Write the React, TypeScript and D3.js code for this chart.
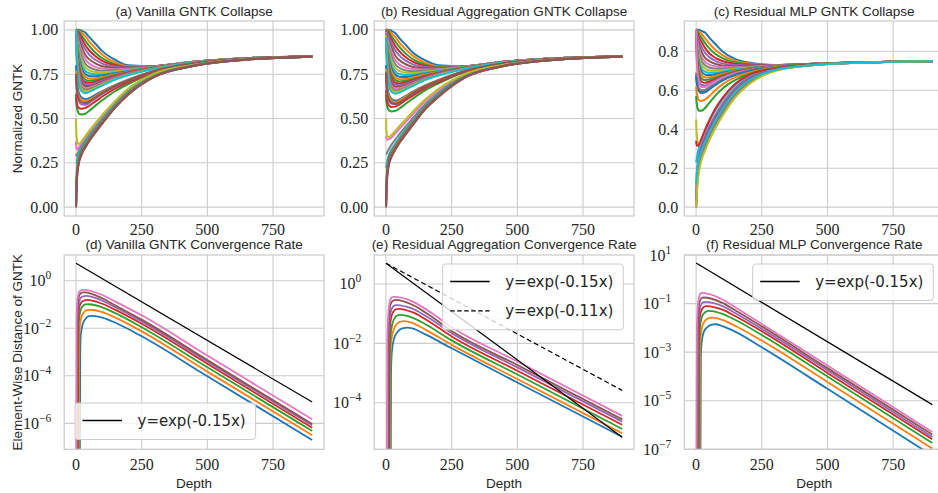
import React from 'react';
import * as d3 from 'd3';

type Pt = [number, number];

const collapseDepths = [0, 2, 5, 10, 20, 35, 50, 75, 100, 150, 200, 300, 450, 650, 899];

// (a) Vanilla GNTK collapse, one row per curve
const vanillaCollapse: number[][] = [
  [1.00, 1.00, 1.00, 1.00, 0.995, 0.985, 0.96, 0.92, 0.88, 0.83, 0.80, 0.795, 0.82, 0.84, 0.85],
  [1.00, 1.00, 1.00, 0.995, 0.985, 0.965, 0.935, 0.895, 0.86, 0.815, 0.795, 0.795, 0.82, 0.84, 0.85],
  [1.00, 1.00, 0.995, 0.99, 0.97, 0.94, 0.91, 0.87, 0.84, 0.805, 0.79, 0.795, 0.82, 0.84, 0.85],
  [1.00, 0.995, 0.99, 0.98, 0.955, 0.915, 0.885, 0.85, 0.825, 0.80, 0.788, 0.795, 0.82, 0.84, 0.85],
  [1.00, 0.99, 0.985, 0.97, 0.935, 0.89, 0.86, 0.83, 0.81, 0.792, 0.786, 0.795, 0.82, 0.84, 0.85],
  [1.00, 0.99, 0.975, 0.955, 0.91, 0.86, 0.835, 0.81, 0.795, 0.785, 0.783, 0.794, 0.82, 0.84, 0.85],
  [1.00, 0.985, 0.965, 0.935, 0.885, 0.835, 0.81, 0.79, 0.782, 0.778, 0.78, 0.793, 0.82, 0.84, 0.85],
  [1.00, 0.98, 0.955, 0.915, 0.86, 0.81, 0.79, 0.775, 0.77, 0.772, 0.777, 0.792, 0.82, 0.84, 0.85],
  [1.00, 0.975, 0.94, 0.895, 0.835, 0.79, 0.772, 0.762, 0.76, 0.766, 0.774, 0.791, 0.82, 0.84, 0.85],
  [1.00, 0.97, 0.93, 0.875, 0.81, 0.77, 0.755, 0.75, 0.75, 0.76, 0.77, 0.79, 0.819, 0.84, 0.85],
  [1.00, 0.96, 0.915, 0.855, 0.79, 0.752, 0.74, 0.738, 0.742, 0.755, 0.767, 0.789, 0.819, 0.84, 0.85],
  [1.00, 0.955, 0.90, 0.835, 0.77, 0.735, 0.726, 0.727, 0.733, 0.75, 0.764, 0.788, 0.819, 0.84, 0.85],
  [1.00, 0.945, 0.885, 0.815, 0.752, 0.72, 0.713, 0.717, 0.726, 0.745, 0.761, 0.787, 0.818, 0.84, 0.85],
  [1.00, 0.935, 0.87, 0.795, 0.735, 0.706, 0.702, 0.708, 0.719, 0.741, 0.758, 0.786, 0.818, 0.84, 0.85],
  [1.00, 0.925, 0.855, 0.78, 0.72, 0.694, 0.692, 0.70, 0.713, 0.737, 0.756, 0.785, 0.818, 0.84, 0.85],
  [1.00, 0.915, 0.84, 0.765, 0.706, 0.683, 0.683, 0.693, 0.707, 0.733, 0.753, 0.784, 0.817, 0.84, 0.85],
  [1.00, 0.905, 0.825, 0.75, 0.692, 0.672, 0.674, 0.686, 0.701, 0.729, 0.751, 0.783, 0.817, 0.84, 0.85],
  [1.00, 0.89, 0.81, 0.735, 0.68, 0.662, 0.666, 0.68, 0.696, 0.726, 0.749, 0.782, 0.817, 0.84, 0.85],
  [1.00, 0.875, 0.795, 0.72, 0.668, 0.653, 0.658, 0.674, 0.691, 0.723, 0.747, 0.781, 0.816, 0.84, 0.85],
  [1.00, 0.86, 0.78, 0.705, 0.656, 0.643, 0.65, 0.668, 0.686, 0.72, 0.745, 0.78, 0.816, 0.84, 0.85],
  [0.80, 0.74, 0.69, 0.65, 0.62, 0.61, 0.615, 0.635, 0.655, 0.69, 0.72, 0.77, 0.812, 0.838, 0.85],
  [0.77, 0.71, 0.665, 0.63, 0.605, 0.598, 0.605, 0.627, 0.65, 0.687, 0.718, 0.769, 0.812, 0.838, 0.85],
  [0.62, 0.58, 0.55, 0.53, 0.523, 0.527, 0.543, 0.574, 0.603, 0.655, 0.695, 0.761, 0.809, 0.837, 0.85],
  [0.64, 0.60, 0.575, 0.56, 0.555, 0.56, 0.572, 0.598, 0.624, 0.67, 0.705, 0.764, 0.81, 0.837, 0.85],
  [0.74, 0.675, 0.63, 0.60, 0.58, 0.577, 0.588, 0.614, 0.639, 0.681, 0.714, 0.767, 0.811, 0.838, 0.85],
  [0.75, 0.69, 0.645, 0.613, 0.592, 0.587, 0.596, 0.62, 0.644, 0.684, 0.716, 0.768, 0.811, 0.838, 0.85],
  [0.37, 0.33, 0.325, 0.335, 0.355, 0.385, 0.415, 0.462, 0.507, 0.59, 0.662, 0.748, 0.802, 0.834, 0.849],
  [0.30, 0.29, 0.30, 0.315, 0.34, 0.373, 0.404, 0.452, 0.498, 0.583, 0.657, 0.745, 0.801, 0.834, 0.849],
  [0.50, 0.40, 0.365, 0.355, 0.37, 0.40, 0.43, 0.475, 0.52, 0.60, 0.67, 0.755, 0.803, 0.835, 0.849],
  [0.25, 0.25, 0.275, 0.30, 0.33, 0.364, 0.396, 0.445, 0.491, 0.578, 0.652, 0.743, 0.80, 0.833, 0.849],
  [0.00, 0.17, 0.235, 0.28, 0.318, 0.355, 0.388, 0.438, 0.485, 0.573, 0.648, 0.741, 0.799, 0.833, 0.849],
  [0.00, 0.155, 0.222, 0.27, 0.311, 0.35, 0.384, 0.434, 0.481, 0.57, 0.645, 0.74, 0.799, 0.833, 0.849],
  [0.00, 0.14, 0.21, 0.26, 0.305, 0.345, 0.38, 0.43, 0.478, 0.568, 0.642, 0.739, 0.798, 0.833, 0.849],
  [0.00, 0.13, 0.20, 0.252, 0.30, 0.34, 0.376, 0.427, 0.475, 0.566, 0.64, 0.738, 0.798, 0.832, 0.849],
  [0.00, 0.12, 0.192, 0.246, 0.296, 0.337, 0.374, 0.425, 0.473, 0.565, 0.638, 0.737, 0.797, 0.832, 0.849],
  [0.00, 0.11, 0.185, 0.24, 0.292, 0.335, 0.372, 0.423, 0.471, 0.563, 0.636, 0.736, 0.797, 0.832, 0.849],
];

// (b) Residual aggregation GNTK collapse
const aggCollapse: number[][] = [
  [1.00, 1.00, 1.00, 1.00, 0.995, 0.982, 0.955, 0.915, 0.875, 0.827, 0.80, 0.795, 0.82, 0.84, 0.85],
  [1.00, 1.00, 1.00, 0.995, 0.982, 0.96, 0.93, 0.89, 0.856, 0.813, 0.794, 0.795, 0.82, 0.84, 0.85],
  [1.00, 1.00, 0.995, 0.988, 0.966, 0.935, 0.905, 0.866, 0.837, 0.803, 0.789, 0.794, 0.82, 0.84, 0.85],
  [1.00, 0.995, 0.99, 0.978, 0.95, 0.91, 0.88, 0.846, 0.822, 0.797, 0.786, 0.794, 0.82, 0.84, 0.85],
  [1.00, 0.99, 0.983, 0.966, 0.93, 0.885, 0.856, 0.826, 0.807, 0.79, 0.784, 0.794, 0.82, 0.84, 0.85],
  [1.00, 0.988, 0.973, 0.95, 0.905, 0.856, 0.83, 0.806, 0.792, 0.783, 0.781, 0.793, 0.82, 0.84, 0.85],
  [1.00, 0.983, 0.962, 0.93, 0.88, 0.83, 0.806, 0.786, 0.779, 0.776, 0.778, 0.792, 0.82, 0.84, 0.85],
  [1.00, 0.978, 0.95, 0.91, 0.855, 0.806, 0.786, 0.771, 0.767, 0.77, 0.775, 0.791, 0.82, 0.84, 0.85],
  [1.00, 0.972, 0.937, 0.89, 0.83, 0.786, 0.768, 0.758, 0.757, 0.764, 0.772, 0.79, 0.819, 0.84, 0.85],
  [1.00, 0.966, 0.925, 0.87, 0.806, 0.766, 0.751, 0.746, 0.747, 0.758, 0.768, 0.789, 0.819, 0.84, 0.85],
  [1.00, 0.958, 0.91, 0.85, 0.786, 0.748, 0.736, 0.734, 0.739, 0.753, 0.765, 0.788, 0.819, 0.84, 0.85],
  [1.00, 0.95, 0.895, 0.83, 0.766, 0.731, 0.722, 0.723, 0.73, 0.748, 0.762, 0.787, 0.818, 0.84, 0.85],
  [1.00, 0.94, 0.88, 0.81, 0.748, 0.716, 0.709, 0.713, 0.722, 0.743, 0.759, 0.786, 0.818, 0.84, 0.85],
  [1.00, 0.93, 0.865, 0.79, 0.731, 0.702, 0.698, 0.704, 0.715, 0.739, 0.756, 0.785, 0.818, 0.84, 0.85],
  [1.00, 0.92, 0.85, 0.775, 0.716, 0.69, 0.688, 0.696, 0.709, 0.735, 0.754, 0.784, 0.817, 0.84, 0.85],
  [1.00, 0.91, 0.835, 0.76, 0.702, 0.679, 0.679, 0.689, 0.703, 0.731, 0.751, 0.783, 0.817, 0.84, 0.85],
  [0.99, 0.895, 0.82, 0.745, 0.688, 0.668, 0.67, 0.682, 0.697, 0.727, 0.749, 0.782, 0.817, 0.84, 0.85],
  [0.98, 0.88, 0.805, 0.73, 0.676, 0.658, 0.662, 0.676, 0.692, 0.724, 0.747, 0.781, 0.816, 0.84, 0.85],
  [0.97, 0.865, 0.79, 0.715, 0.664, 0.649, 0.654, 0.67, 0.687, 0.721, 0.745, 0.78, 0.816, 0.84, 0.85],
  [0.96, 0.85, 0.775, 0.70, 0.652, 0.64, 0.646, 0.664, 0.682, 0.718, 0.743, 0.779, 0.816, 0.84, 0.85],
  [0.80, 0.73, 0.68, 0.64, 0.612, 0.60, 0.606, 0.628, 0.65, 0.688, 0.718, 0.768, 0.811, 0.838, 0.85],
  [0.78, 0.71, 0.66, 0.625, 0.60, 0.592, 0.60, 0.623, 0.646, 0.685, 0.716, 0.767, 0.811, 0.838, 0.85],
  [0.63, 0.59, 0.565, 0.548, 0.54, 0.543, 0.555, 0.583, 0.61, 0.66, 0.698, 0.762, 0.809, 0.837, 0.85],
  [0.66, 0.62, 0.595, 0.575, 0.565, 0.567, 0.578, 0.603, 0.628, 0.672, 0.706, 0.764, 0.81, 0.837, 0.85],
  [0.75, 0.68, 0.632, 0.602, 0.584, 0.58, 0.589, 0.614, 0.639, 0.68, 0.713, 0.766, 0.811, 0.838, 0.85],
  [0.76, 0.69, 0.64, 0.61, 0.59, 0.583, 0.59, 0.614, 0.64, 0.682, 0.714, 0.767, 0.811, 0.838, 0.85],
  [0.40, 0.385, 0.38, 0.382, 0.392, 0.415, 0.44, 0.48, 0.52, 0.597, 0.658, 0.746, 0.802, 0.834, 0.849],
  [0.30, 0.30, 0.31, 0.325, 0.35, 0.38, 0.41, 0.455, 0.498, 0.58, 0.645, 0.74, 0.80, 0.834, 0.849],
  [0.50, 0.42, 0.40, 0.395, 0.405, 0.43, 0.455, 0.495, 0.535, 0.608, 0.668, 0.75, 0.803, 0.835, 0.849],
  [0.22, 0.24, 0.265, 0.29, 0.322, 0.357, 0.39, 0.438, 0.483, 0.57, 0.637, 0.737, 0.799, 0.833, 0.849],
  [0.00, 0.16, 0.225, 0.272, 0.31, 0.347, 0.38, 0.43, 0.476, 0.565, 0.633, 0.735, 0.798, 0.833, 0.849],
  [0.00, 0.145, 0.212, 0.262, 0.303, 0.341, 0.375, 0.425, 0.472, 0.562, 0.63, 0.734, 0.798, 0.833, 0.849],
  [0.00, 0.13, 0.20, 0.252, 0.296, 0.335, 0.37, 0.42, 0.468, 0.559, 0.628, 0.733, 0.797, 0.832, 0.849],
  [0.00, 0.12, 0.19, 0.244, 0.29, 0.33, 0.366, 0.416, 0.465, 0.557, 0.626, 0.732, 0.797, 0.832, 0.849],
  [0.00, 0.11, 0.182, 0.237, 0.285, 0.326, 0.362, 0.413, 0.462, 0.555, 0.624, 0.731, 0.796, 0.832, 0.849],
  [0.00, 0.10, 0.175, 0.23, 0.28, 0.322, 0.359, 0.41, 0.459, 0.553, 0.622, 0.73, 0.796, 0.832, 0.849],
];

// (c) Residual MLP GNTK collapse
const mlpCollapse: number[][] = [
  [0.91, 0.91, 0.91, 0.91, 0.905, 0.895, 0.87, 0.835, 0.80, 0.76, 0.742, 0.73, 0.736, 0.744, 0.749],
  [0.91, 0.91, 0.905, 0.90, 0.89, 0.865, 0.84, 0.805, 0.78, 0.75, 0.737, 0.729, 0.736, 0.744, 0.749],
  [0.91, 0.905, 0.90, 0.89, 0.87, 0.84, 0.815, 0.785, 0.765, 0.742, 0.733, 0.729, 0.736, 0.744, 0.749],
  [0.91, 0.90, 0.89, 0.875, 0.85, 0.815, 0.79, 0.765, 0.75, 0.735, 0.73, 0.728, 0.736, 0.744, 0.749],
  [0.91, 0.895, 0.88, 0.86, 0.825, 0.79, 0.77, 0.75, 0.738, 0.729, 0.727, 0.728, 0.736, 0.744, 0.749],
  [0.91, 0.89, 0.87, 0.84, 0.80, 0.765, 0.75, 0.735, 0.727, 0.723, 0.724, 0.727, 0.736, 0.744, 0.749],
  [0.91, 0.885, 0.855, 0.82, 0.775, 0.745, 0.732, 0.722, 0.718, 0.718, 0.721, 0.727, 0.736, 0.744, 0.749],
  [0.91, 0.875, 0.84, 0.80, 0.755, 0.727, 0.717, 0.711, 0.71, 0.714, 0.719, 0.726, 0.736, 0.744, 0.749],
  [0.91, 0.865, 0.825, 0.78, 0.735, 0.71, 0.703, 0.70, 0.702, 0.71, 0.716, 0.726, 0.736, 0.744, 0.749],
  [0.91, 0.855, 0.81, 0.76, 0.715, 0.694, 0.69, 0.69, 0.695, 0.706, 0.714, 0.725, 0.736, 0.744, 0.749],
  [0.91, 0.845, 0.795, 0.74, 0.697, 0.68, 0.678, 0.682, 0.689, 0.702, 0.712, 0.725, 0.736, 0.744, 0.749],
  [0.91, 0.835, 0.78, 0.722, 0.68, 0.666, 0.667, 0.674, 0.683, 0.699, 0.71, 0.724, 0.735, 0.744, 0.749],
  [0.91, 0.82, 0.76, 0.70, 0.662, 0.652, 0.656, 0.666, 0.677, 0.696, 0.708, 0.724, 0.735, 0.744, 0.749],
  [0.91, 0.805, 0.74, 0.68, 0.645, 0.638, 0.645, 0.658, 0.672, 0.693, 0.706, 0.723, 0.735, 0.744, 0.749],
  [0.91, 0.79, 0.72, 0.66, 0.628, 0.625, 0.635, 0.651, 0.667, 0.69, 0.704, 0.723, 0.735, 0.744, 0.749],
  [0.68, 0.65, 0.625, 0.603, 0.593, 0.597, 0.61, 0.632, 0.652, 0.681, 0.699, 0.721, 0.735, 0.744, 0.749],
  [0.91, 0.77, 0.70, 0.645, 0.617, 0.617, 0.628, 0.646, 0.663, 0.688, 0.703, 0.722, 0.735, 0.744, 0.749],
  [0.69, 0.66, 0.635, 0.612, 0.60, 0.603, 0.615, 0.636, 0.655, 0.683, 0.70, 0.721, 0.735, 0.744, 0.749],
  [0.45, 0.38, 0.34, 0.315, 0.31, 0.335, 0.37, 0.43, 0.485, 0.58, 0.64, 0.703, 0.73, 0.743, 0.749],
  [0.23, 0.245, 0.27, 0.30, 0.345, 0.395, 0.44, 0.50, 0.55, 0.628, 0.673, 0.71, 0.731, 0.743, 0.749],
  [0.67, 0.64, 0.615, 0.595, 0.585, 0.59, 0.604, 0.628, 0.649, 0.679, 0.698, 0.72, 0.735, 0.744, 0.749],
  [0.62, 0.59, 0.565, 0.55, 0.545, 0.553, 0.57, 0.603, 0.63, 0.667, 0.69, 0.718, 0.734, 0.744, 0.749],
  [0.57, 0.535, 0.51, 0.495, 0.495, 0.51, 0.535, 0.575, 0.608, 0.653, 0.682, 0.716, 0.734, 0.744, 0.749],
  [0.34, 0.32, 0.315, 0.32, 0.35, 0.40, 0.445, 0.51, 0.56, 0.635, 0.678, 0.712, 0.732, 0.743, 0.749],
  [0.00, 0.14, 0.21, 0.26, 0.315, 0.37, 0.415, 0.477, 0.53, 0.613, 0.663, 0.707, 0.731, 0.743, 0.749],
  [0.00, 0.11, 0.18, 0.235, 0.295, 0.35, 0.395, 0.46, 0.513, 0.60, 0.655, 0.705, 0.73, 0.743, 0.749],
  [0.00, 0.09, 0.155, 0.212, 0.275, 0.33, 0.377, 0.443, 0.498, 0.588, 0.647, 0.703, 0.73, 0.743, 0.749],
  [0.00, 0.07, 0.135, 0.192, 0.257, 0.313, 0.36, 0.428, 0.485, 0.578, 0.64, 0.701, 0.73, 0.743, 0.749],
  [0.00, 0.05, 0.115, 0.175, 0.24, 0.295, 0.343, 0.41, 0.468, 0.565, 0.63, 0.698, 0.729, 0.743, 0.749],
  [0.12, 0.17, 0.21, 0.245, 0.29, 0.34, 0.385, 0.45, 0.505, 0.594, 0.65, 0.704, 0.73, 0.743, 0.749],
];

// (d) Vanilla convergence rate: [depth, distance]
const vanillaRate: Pt[][] = [
  [[0, 1e-12], [14, 1e-9], [16, 1e-3], [18, 5e-3], [25, 1.4e-2], [35, 2.4e-2], [50, 3.2e-2], [64, 3.3e-2], [100, 2.8e-2], [150, 1.7e-2], [250, 4.6e-3], [500, 9.5e-5], [899, 2.0e-7]],
  [[0, 1e-12], [10, 1e-9], [12, 1.6e-3], [14, 1.0e-2], [20, 2.8e-2], [30, 4.7e-2], [42, 5.8e-2], [55, 6.0e-2], [100, 4.8e-2], [150, 2.8e-2], [250, 7.4e-3], [500, 1.5e-4], [899, 3.2e-7]],
  [[0, 1e-12], [7, 1e-9], [9, 3.2e-3], [11, 2.0e-2], [17, 5.6e-2], [26, 8.5e-2], [36, 0.10], [48, 0.102], [100, 7.6e-2], [150, 4.3e-2], [250, 1.1e-2], [500, 2.3e-4], [899, 4.8e-7]],
  [[0, 1e-12], [5, 1e-9], [7, 5e-3], [9, 3.2e-2], [14, 8.9e-2], [22, 0.13], [32, 0.15], [42, 0.155], [100, 0.107], [150, 5.9e-2], [250, 1.55e-2], [500, 3.2e-4], [899, 6.6e-7]],
  [[0, 1e-12], [3, 1e-9], [5, 6.3e-3], [7, 5.0e-2], [12, 0.13], [20, 0.20], [30, 0.22], [38, 0.23], [100, 0.145], [150, 7.6e-2], [250, 1.95e-2], [500, 4.0e-4], [899, 8.3e-7]],
  [[0, 1e-12], [2, 1e-9], [4, 1e-2], [6, 7.9e-2], [10, 0.20], [18, 0.295], [26, 0.32], [32, 0.324], [100, 0.182], [150, 9.1e-2], [250, 2.3e-2], [500, 4.6e-4], [899, 9.5e-7]],
  [[0, 1e-12], [1, 1e-9], [2, 1e-2], [4, 0.10], [8, 0.25], [15, 0.37], [22, 0.405], [28, 0.41], [100, 0.25], [150, 0.132], [250, 3.5e-2], [500, 7.1e-4], [899, 1.48e-6]],
];

// (e) Residual aggregation convergence rate
const aggRate: Pt[][] = [
  [[0, 1e-12], [17, 1e-9], [19, 1e-3], [22, 5e-3], [30, 1.4e-2], [45, 2.5e-2], [62, 3.2e-2], [83, 3.4e-2], [100, 3.2e-2], [150, 2.0e-2], [250, 6.8e-3], [500, 4.8e-4], [899, 7.1e-6]],
  [[0, 1e-12], [14, 1e-9], [16, 1.6e-3], [19, 1e-2], [27, 2.5e-2], [40, 4.4e-2], [55, 5.4e-2], [70, 5.6e-2], [100, 4.9e-2], [150, 2.9e-2], [250, 8.9e-3], [500, 6.3e-4], [899, 9.3e-6]],
  [[0, 1e-12], [12, 1e-9], [14, 2.5e-3], [17, 1.6e-2], [24, 4.5e-2], [35, 7.6e-2], [46, 8.9e-2], [57, 9.1e-2], [100, 7.4e-2], [150, 4.4e-2], [250, 1.26e-2], [500, 8.9e-4], [899, 1.3e-5]],
  [[0, 1e-12], [9, 1e-9], [11, 4e-3], [14, 2.5e-2], [20, 7.6e-2], [29, 0.12], [38, 0.141], [45, 0.145], [100, 0.112], [150, 6.5e-2], [250, 1.7e-2], [500, 1.2e-3], [899, 1.8e-5]],
  [[0, 1e-12], [7, 1e-9], [9, 5e-3], [12, 4e-2], [17, 0.105], [25, 0.166], [33, 0.19], [40, 0.195], [100, 0.148], [150, 8.5e-2], [250, 2.2e-2], [500, 1.55e-3], [899, 2.3e-5]],
  [[0, 1e-12], [5, 1e-9], [7, 7.9e-3], [10, 6.3e-2], [15, 0.166], [22, 0.25], [29, 0.28], [35, 0.29], [100, 0.20], [150, 0.11], [250, 2.6e-2], [500, 1.86e-3], [899, 2.75e-5]],
  [[0, 1e-12], [3, 1e-9], [5, 1e-2], [8, 7.9e-2], [13, 0.22], [19, 0.33], [25, 0.36], [30, 0.37], [100, 0.26], [150, 0.145], [250, 3.5e-2], [500, 2.45e-3], [899, 3.6e-5]],
];

// (f) Residual MLP convergence rate
const mlpRate: Pt[][] = [
  [[0, 1e-12], [16, 1e-9], [18, 6.3e-4], [21, 2.5e-3], [30, 7.1e-3], [45, 1.12e-2], [60, 1.35e-2], [75, 1.41e-2], [100, 1.17e-2], [150, 6.8e-3], [250, 1.58e-3], [500, 3.1e-5], [899, 5.5e-8]],
  [[0, 1e-12], [13, 1e-9], [15, 1e-3], [18, 5e-3], [26, 1.4e-2], [40, 2.24e-2], [52, 2.57e-2], [62, 2.63e-2], [100, 2.14e-2], [150, 1.2e-2], [250, 3.0e-3], [500, 5.9e-5], [899, 1.07e-7]],
  [[0, 1e-12], [10, 1e-9], [12, 2e-3], [15, 1e-2], [22, 2.8e-2], [34, 4.4e-2], [44, 4.9e-2], [50, 5.0e-2], [100, 3.8e-2], [150, 2.1e-2], [250, 5.1e-3], [500, 1.0e-4], [899, 1.8e-7]],
  [[0, 1e-12], [7, 1e-9], [9, 3.2e-3], [12, 1.6e-2], [18, 4.5e-2], [28, 7.1e-2], [37, 7.8e-2], [42, 7.9e-2], [100, 5.6e-2], [150, 3.0e-2], [250, 7.2e-3], [500, 1.4e-4], [899, 2.6e-7]],
  [[0, 1e-12], [5, 1e-9], [7, 4e-3], [10, 2.5e-2], [15, 6.8e-2], [24, 0.107], [31, 0.115], [35, 0.117], [100, 7.8e-2], [150, 4.0e-2], [250, 9.1e-3], [500, 1.8e-4], [899, 3.2e-7]],
  [[0, 1e-12], [3, 1e-9], [5, 6.3e-3], [8, 4e-2], [12, 0.105], [19, 0.162], [25, 0.176], [28, 0.178], [100, 0.107], [150, 5.2e-2], [250, 1.15e-2], [500, 2.2e-4], [899, 4.1e-7]],
  [[0, 1e-12], [1, 1e-9], [3, 1e-2], [6, 6.3e-2], [10, 0.158], [15, 0.25], [19, 0.27], [22, 0.275], [100, 0.148], [150, 6.9e-2], [250, 1.45e-2], [500, 2.8e-4], [899, 5.1e-7]],
];

// reference exponential lines
const vanillaExp: Pt[] = [[0, 5.4], [899, 7.9e-6]];
const aggExpFast: Pt[] = [[0, 5.0], [899, 6.9e-6]];
const aggExpSlow: Pt[] = [[0, 5.0], [899, 2.6e-4]];
const mlpExp: Pt[] = [[0, 4.7], [899, 6.9e-6]];

const depthTicks = [0, 250, 500, 750];
const collapseTicks = [0, 0.25, 0.5, 0.75, 1.0];
const mlpCollapseTicks = [0, 0.2, 0.4, 0.6, 0.8];
const vanillaRateTicks = [1, 1e-2, 1e-4, 1e-6];
const aggRateTicks = [1, 1e-2, 1e-4];
const mlpRateTicks = [10, 1e-1, 1e-3, 1e-5, 1e-7];

const tab10 = ['#1f77b4', '#ff7f0e', '#2ca02c', '#d62728', '#9467bd', '#8c564b', '#e377c2', '#7f7f7f', '#bcbd22', '#17becf'];

const W = 938;
const H = 493;
const GRID = '#cccccc';
const INK = '#262626';
const SERIF = "'Liberation Serif', 'DejaVu Serif', serif";
const SANS = "'Liberation Sans', Arial, sans-serif";
const LEG = "'DejaVu Sans', sans-serif";

const colLeft = [64.2, 374.2, 684.3];
const plotW = 259.8;
const rows = [
  { top: 21, bottom: 216 },
  { top: 255, bottom: 449.3 },
];

const xFor = (col: number) =>
  d3.scaleLinear().domain([-45, 944]).range([colLeft[col], colLeft[col] + plotW]);

function supLabel(v: number) {
  const e = Math.round(Math.log10(v));
  return e < 0 ? '\u2212' + Math.abs(e) : String(e);
}

function Panel(props: any) {
  const { id, col, row, title, y, yTicks, log, fmt, ylabel, xlabel, children } = props;
  const { top, bottom } = rows[row];
  const left = colLeft[col];
  const x = xFor(col);
  const cx = left + plotW / 2;
  const tickY = row === 0 ? 235 : 470;
  return (
    <g>
      <defs>
        <clipPath id={id}>
          <rect x={left} y={top} width={plotW} height={bottom - top} />
        </clipPath>
      </defs>
      {depthTicks.map((t) => (
        <line key={'gx' + t} x1={x(t)} x2={x(t)} y1={top} y2={bottom} stroke={GRID} strokeWidth={1.1} />
      ))}
      {yTicks.map((t: number) => (
        <line key={'gy' + t} x1={left} x2={left + plotW} y1={y(t)} y2={y(t)} stroke={GRID} strokeWidth={1.1} />
      ))}
      <g clipPath={`url(#${id})`}>{children(x)}</g>
      <rect x={left} y={top} width={plotW} height={bottom - top} fill="none" stroke={GRID} strokeWidth={1.25} />
      {depthTicks.map((t) => (
        <text key={'tx' + t} x={x(t)} y={tickY} textAnchor="middle" fontFamily={SERIF} fontSize={16} fill={INK}>
          {t}
        </text>
      ))}
      {yTicks.map((t: number) =>
        log ? (
          <text key={'ty' + t} x={left - 13} y={y(t) + 5.5} textAnchor="end" fontFamily={SERIF} fontSize={16} fill={INK}>
            10
            <tspan dy={-7} fontSize={11.5}>{supLabel(t)}</tspan>
          </text>
        ) : (
          <text key={'ty' + t} x={left - 6} y={y(t) + 5.5} textAnchor="end" fontFamily={SERIF} fontSize={16} fill={INK}>
            {fmt(t)}
          </text>
        )
      )}
      <text x={cx} y={row === 0 ? 15.5 : 249} textAnchor="middle" fontFamily={SANS} fontSize={13.5} fill={INK}>
        {title}
      </text>
      {xlabel && (
        <text x={cx} y={488} textAnchor="middle" fontFamily={SANS} fontSize={13.5} fill={INK}>
          {xlabel}
        </text>
      )}
      {ylabel && (
        <text
          transform={`translate(21.5,${(top + bottom) / 2}) rotate(-90)`}
          textAnchor="middle"
          fontFamily={SANS}
          fontSize={13.5}
          fill={INK}
        >
          {ylabel}
        </text>
      )}
    </g>
  );
}

function Legend({ x, y, w, entries }: { x: number; y: number; w: number; entries: { label: string; dash?: string }[] }) {
  const h = 36.5 + (entries.length - 1) * 29.3;
  return (
    <g>
      <rect x={x} y={y} width={w} height={h} rx={3} fill="#ffffff" fillOpacity={0.8} stroke={GRID} strokeWidth={1} />
      {entries.map((e, i) => {
        const ly = y + 17.5 + i * 29.3;
        return (
          <g key={e.label}>
            <line x1={x + 7.5} x2={x + 47} y1={ly} y2={ly} stroke="#000" strokeWidth={1.3} strokeDasharray={e.dash} />
            <text x={x + 62.5} y={ly + 5.5} fontFamily={LEG} fontSize={15} fill={INK}>
              {e.label}
            </text>
          </g>
        );
      })}
    </g>
  );
}

function collapseLines(data: number[][], x: any, y: any) {
  const line = d3
    .line<Pt>()
    .x((d) => x(d[0]))
    .y((d) => y(d[1]))
    .curve(d3.curveMonotoneX);
  return data.map((row, i) => {
    const pts: Pt[] = collapseDepths.map((d, j) => [d, row[j]]);
    return <path key={i} d={line(pts) || ''} fill="none" stroke={tab10[i % 10]} strokeWidth={2} />;
  });
}

function rateLines(data: Pt[][], x: any, y: any) {
  const line = d3
    .line<Pt>()
    .x((d) => x(d[0]))
    .y((d) => y(d[1]))
    .curve(d3.curveMonotoneX);
  return data.map((pts, i) => (
    <path key={i} d={line(pts) || ''} fill="none" stroke={tab10[i % 10]} strokeWidth={1.8} />
  ));
}

function refLine(pts: Pt[], x: any, y: any, dash?: string) {
  const line = d3
    .line<Pt>()
    .x((d) => x(d[0]))
    .y((d) => y(d[1]));
  return <path d={line(pts) || ''} fill="none" stroke="#000" strokeWidth={1.2} strokeDasharray={dash} />;
}

export default function App() {
  const yA = d3.scaleLinear().domain([-0.05, 1.05]).range([rows[0].bottom, rows[0].top]);
  const yC = d3.scaleLinear().domain([-0.0455, 0.9555]).range([rows[0].bottom, rows[0].top]);
  const yD = d3.scaleLog().domain([Math.pow(10, -7.09), Math.pow(10, 1.08)]).range([rows[1].bottom, rows[1].top]);
  const yE = d3.scaleLog().domain([Math.pow(10, -5.57), Math.pow(10, 0.977)]).range([rows[1].bottom, rows[1].top]);
  const yF = d3.scaleLog().domain([1e-7, 1e1]).range([rows[1].bottom, rows[1].top]);
  const f2 = d3.format('.2f');
  const f1 = d3.format('.1f');
  const dash = '5,3';

  return (
    <svg width={W} height={H} style={{ position: 'absolute', left: 0, top: 0, background: '#fff' }}>
      <rect width={W} height={H} fill="#fff" />
      <Panel id="pa" col={0} row={0} title="(a) Vanilla GNTK Collapse" y={yA} yTicks={collapseTicks} fmt={f2} ylabel="Normalized GNTK">
        {(x: any) => collapseLines(vanillaCollapse, x, yA)}
      </Panel>
      <Panel id="pb" col={1} row={0} title="(b) Residual Aggregation GNTK Collapse" y={yA} yTicks={collapseTicks} fmt={f2}>
        {(x: any) => collapseLines(aggCollapse, x, yA)}
      </Panel>
      <Panel id="pc" col={2} row={0} title="(c) Residual MLP GNTK Collapse" y={yC} yTicks={mlpCollapseTicks} fmt={f1}>
        {(x: any) => collapseLines(mlpCollapse, x, yC)}
      </Panel>
      <Panel id="pd" col={0} row={1} title="(d) Vanilla GNTK Convergence Rate" y={yD} yTicks={vanillaRateTicks} log ylabel="Element-Wise Distance of GNTK" xlabel="Depth">
        {(x: any) => (
          <g>
            {rateLines(vanillaRate, x, yD)}
            {refLine(vanillaExp, x, yD)}
          </g>
        )}
      </Panel>
      <Panel id="pe" col={1} row={1} title="(e) Residual Aggregation Convergence Rate" y={yE} yTicks={aggRateTicks} log xlabel="Depth">
        {(x: any) => (
          <g>
            {rateLines(aggRate, x, yE)}
            {refLine(aggExpFast, x, yE)}
            {refLine(aggExpSlow, x, yE, dash)}
          </g>
        )}
      </Panel>
      <Panel id="pf" col={2} row={1} title="(f) Residual MLP Convergence Rate" y={yF} yTicks={mlpRateTicks} log xlabel="Depth">
        {(x: any) => (
          <g>
            {rateLines(mlpRate, x, yF)}
            {refLine(mlpExp, x, yF)}
          </g>
        )}
      </Panel>
      <Legend x={colLeft[0] + 10.8} y={rows[1].bottom - 46.3} w={180.6} entries={[{ label: 'y=exp(-0.15x)' }]} />
      <Legend
        x={colLeft[1] + 68.5}
        y={rows[1].top + 9}
        w={180.6}
        entries={[{ label: 'y=exp(-0.15x)' }, { label: 'y=exp(-0.11x)', dash: '4.5,2.5' }]}
      />
      <Legend x={colLeft[2] + 68.4} y={rows[1].top + 9} w={180.6} entries={[{ label: 'y=exp(-0.15x)' }]} />
    </svg>
  );
}
